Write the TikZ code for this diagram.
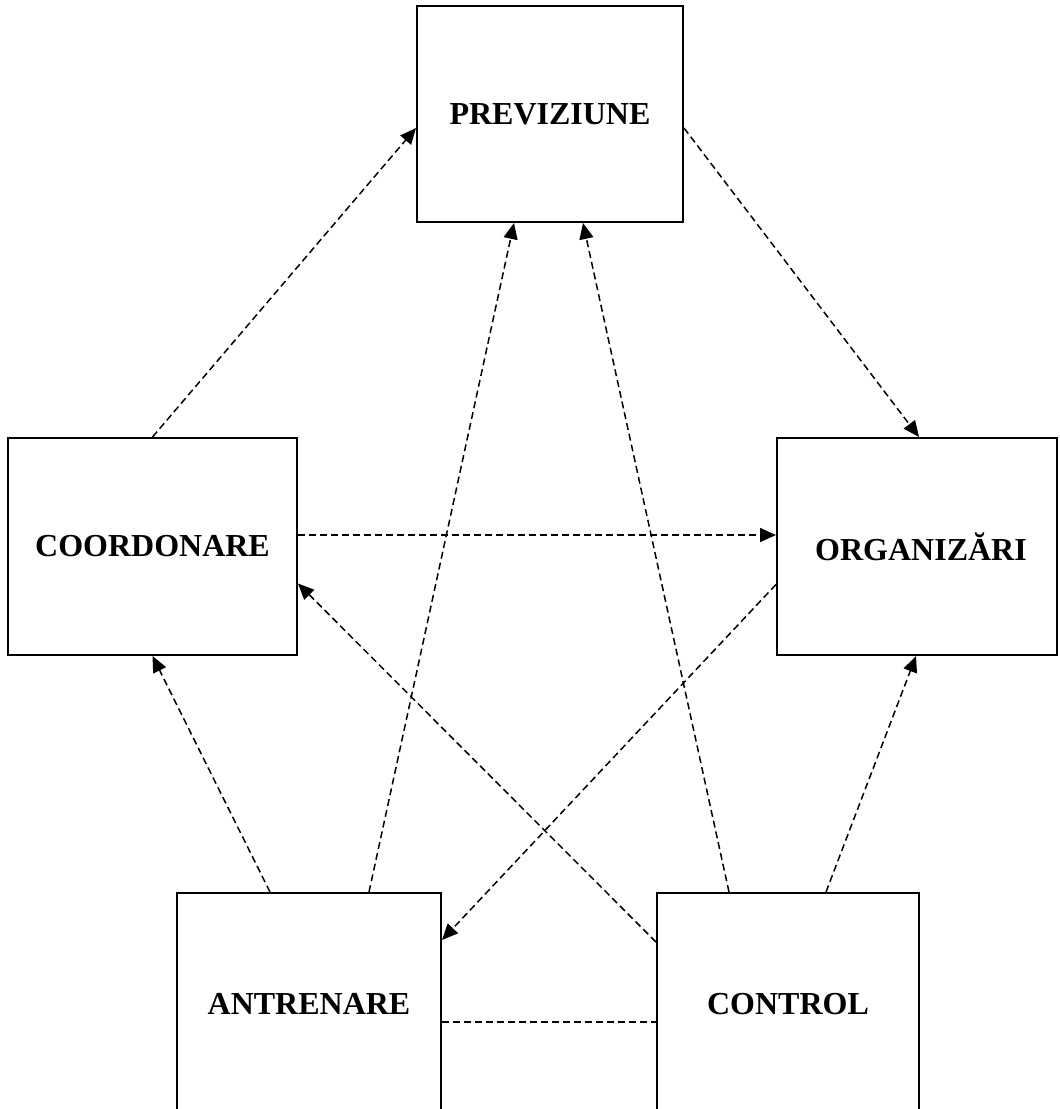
\documentclass[tikz,border=0pt]{standalone}
\usepackage{fontspec}
\setmainfont{Liberation Serif}
\usetikzlibrary{arrows.meta,calc}
\tikzset{
  box/.style={draw, line width=2pt, inner sep=0pt, font=\bfseries\fontsize{32}{38}\selectfont},
  conn/.style={line width=1.5pt, dash pattern=on 7pt off 4pt},
  arr/.style={conn, -{Triangle[length=16pt,width=14pt]}}
}
\begin{document}
\begin{tikzpicture}[x=1pt,y=-1pt]
\useasboundingbox (0,0) rectangle (1060,1109);
\clip (0,0) rectangle (1060,1109);
\node[box, minimum width=266pt, minimum height=216pt] (P) at (550,114) {PREVIZIUNE};
\node[box, minimum width=289pt, minimum height=217pt] (Co) at (152.5,546.5) {COORDONARE};
\node[box, minimum width=280pt, minimum height=217pt] (O) at (917,546.5) {\hspace*{8pt}ORGANIZĂRI};
\node[box, minimum width=264pt, minimum height=222pt] (A) at (309,1004) {ANTRENARE};
\node[box, minimum width=262pt, minimum height=222pt] (C) at (788,1004) {CONTROL};
\draw[arr] (Co.north) -- ($(P.west)+(0,14)$);
\draw[arr] ($(P.east)+(0,14)$) -- ($(O.north)+(2,0)$);
\draw[arr] ($(Co.east)+(0,-11.5)$) -- ($(O.west)+(0,-11.5)$);
\draw[arr] ($(O.west)+(0,38)$) -- ($(A.east)+(0,-64)$);
\draw[arr] ($(C.west)+(0,-62)$) -- ($(Co.east)+(0,37)$);
\draw[arr] ($(A.north)+(-39,0)$) -- (Co.south);
\draw[arr] ($(A.north)+(60,0)$) -- ($(P.south)+(-36,0)$);
\draw[arr] ($(C.north)+(-59,0)$) -- ($(P.south)+(33,0)$);
\draw[arr] ($(C.north)+(38,0)$) -- ($(O.south)+(-1,0)$);
\draw[conn] ($(A.east)+(0,18)$) -- ($(C.west)+(0,18)$);
\end{tikzpicture}
\end{document}
